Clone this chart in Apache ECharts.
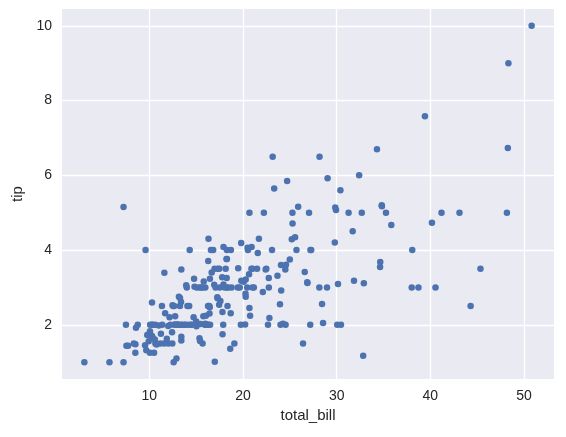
<!DOCTYPE html>
<html><head><meta charset="utf-8">
<script src="https://cdn.jsdelivr.net/npm/echarts@6/dist/echarts.min.js"></script>
<style>html,body{margin:0;padding:0;background:#fff}#c{width:566px;height:437px}</style>
</head><body><div id="c"></div>
<script>
const totalBill=[16.99,10.34,21.01,23.68,24.59,25.29,8.77,26.88,15.04,14.78,10.27,35.26,15.42,18.43,14.83,21.58,10.33,16.29,16.97,20.65,17.92,20.29,15.77,39.42,19.82,17.81,13.37,12.69,21.7,19.65,9.55,18.35,15.06,20.69,17.78,24.06,16.31,16.93,18.69,31.27,16.04,17.46,13.94,9.68,30.4,18.29,22.23,32.4,28.55,18.04,12.54,10.29,34.81,9.94,25.56,19.49,38.01,26.41,11.24,48.27,20.29,13.81,11.02,18.29,17.59,20.08,16.45,3.07,20.23,15.01,12.02,17.07,26.86,25.28,14.73,10.51,17.92,27.2,22.76,17.29,19.44,16.66,10.07,32.68,15.98,34.83,13.03,18.28,24.71,21.16,28.97,22.49,5.75,16.32,22.75,40.17,27.28,12.03,21.01,12.46,11.35,15.38,44.3,22.42,20.92,15.36,20.49,25.21,18.24,14.31,14.0,7.25,38.07,23.95,25.71,17.31,29.93,10.65,12.43,24.08,11.69,13.42,14.26,15.95,12.48,29.8,8.52,14.52,11.38,22.82,19.08,20.27,11.17,12.26,18.26,8.51,10.33,14.15,16.0,13.16,17.47,34.3,41.19,27.05,16.43,8.35,18.64,11.87,9.78,7.51,14.07,13.13,17.26,24.55,19.77,29.85,48.17,25.0,13.39,16.49,21.5,12.66,16.21,13.81,17.51,24.52,20.76,31.71,10.59,10.63,50.81,15.81,7.25,31.85,16.82,32.9,17.89,14.48,9.6,34.63,34.65,23.33,45.35,23.17,40.55,20.69,20.9,30.46,18.15,23.1,15.69,19.81,28.44,15.48,16.58,7.56,10.34,43.11,13.0,13.51,18.71,12.74,13.0,16.4,20.53,16.47,26.59,38.73,24.27,12.76,30.06,25.89,48.33,13.27,28.17,12.9,28.15,11.59,7.74,30.14,12.16,13.42,8.58,15.98,13.42,16.27,10.09,20.45,13.28,22.12,24.01,15.69,11.61,10.77,15.53,10.07,12.6,32.83,35.83,29.03,27.18,22.67,17.82,18.78];
const tip=[1.01,1.66,3.5,3.31,3.61,4.71,2.0,3.12,1.96,3.23,1.71,5.0,1.57,3.0,3.02,3.92,1.67,3.71,3.5,3.35,4.08,2.75,2.23,7.58,3.18,2.34,2.0,2.0,4.3,3.0,1.45,2.5,3.0,2.45,3.27,3.6,2.0,3.07,2.31,5.0,2.24,2.54,3.06,1.32,5.6,3.0,5.0,6.0,2.05,3.0,2.5,2.6,5.2,1.56,4.34,3.51,3.0,1.5,1.76,6.73,3.21,2.0,1.98,3.76,2.64,3.15,2.47,1.0,2.01,2.09,1.97,3.0,3.14,5.0,2.2,1.25,3.08,4.0,3.0,2.71,3.0,3.4,1.83,5.0,2.03,5.17,2.0,4.0,5.85,3.0,3.0,3.5,1.0,4.3,3.25,4.73,4.0,1.5,3.0,1.5,2.5,3.0,2.5,3.48,4.08,1.64,4.06,4.29,3.76,4.0,3.0,1.0,4.0,2.55,4.0,3.5,5.07,1.5,1.8,2.92,2.31,1.68,2.5,2.0,2.52,4.2,1.48,2.0,2.0,2.18,1.5,2.83,1.5,2.0,3.25,1.25,2.0,2.0,2.0,2.75,3.5,6.7,5.0,5.0,2.3,1.5,1.36,1.63,1.73,2.0,2.5,2.0,2.74,2.0,2.0,5.14,5.0,3.75,2.61,2.0,3.5,2.5,2.0,2.0,3.0,3.48,2.24,4.5,1.61,2.0,10.0,3.16,5.15,3.18,4.0,3.11,2.0,2.0,4.0,3.55,3.68,5.65,3.5,6.5,3.0,5.0,3.5,2.0,3.5,4.0,1.5,4.19,2.56,2.02,4.0,1.44,2.0,5.0,2.0,2.0,4.0,2.01,2.0,2.5,4.0,3.23,3.41,3.0,2.03,2.23,2.0,5.16,9.0,2.5,6.5,1.1,3.0,1.5,1.44,3.09,2.2,3.48,1.92,3.0,1.58,2.5,2.0,3.0,2.72,2.88,2.0,3.0,3.39,1.47,3.0,1.25,1.0,1.17,4.67,5.92,2.0,2.0,1.75,3.0];
const xTicks=[10,20,30,40,50];
const yTicks=[2,4,6,8,10];
const chart=echarts.init(document.getElementById('c'));
const font='Liberation Sans';
function ax(name,min,max,ticks,gap){return {type:'value',name:name,nameLocation:'middle',nameGap:gap,
 nameTextStyle:{fontFamily:font,fontSize:15,color:'#262626'},min:min,max:max,
 axisLine:{show:false},axisTick:{show:false,customValues:ticks},
 axisLabel:{customValues:ticks,fontFamily:font,fontSize:14,color:'#262626',margin:10},
 splitLine:{show:true,lineStyle:{color:'#fff',width:1.3}}};}
chart.setOption({
 animation:false,backgroundColor:'#fff',
 grid:{left:62,right:12,top:9,bottom:58,show:true,backgroundColor:'#EAEAF2',borderWidth:0},
 xAxis:ax('total_bill',0.683,53.197,xTicks,28),
 yAxis:ax('tip',0.55,10.45,yTicks,36),
 series:[{type:'scatter',symbolSize:6.5,itemStyle:{color:'#4C72B0',opacity:1},
  data:totalBill.map((v,i)=>[v,tip[i]])}]
});
</script></body></html>
